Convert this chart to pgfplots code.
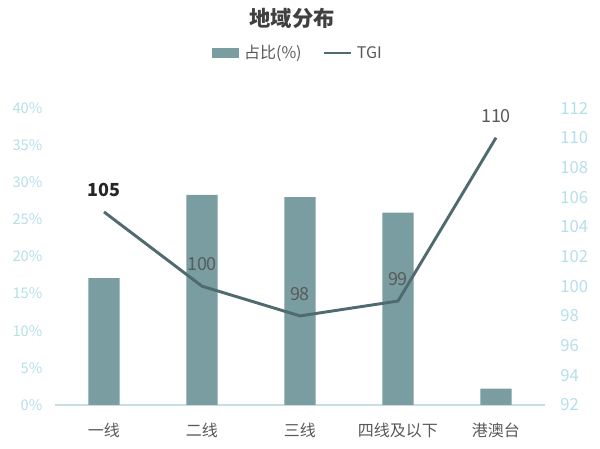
\documentclass[border=0pt]{standalone}
\usepackage{fontspec}
\setmainfont{Noto Sans CJK SC}
\usepackage{pgfplots}
\pgfplotsset{compat=1.18}
\definecolor{barc}{HTML}{7A9DA1}
\definecolor{linec}{HTML}{4F6B70}
\definecolor{tickc}{HTML}{B5DFE9}
\definecolor{axc}{HTML}{C9DEE3}
\definecolor{txt}{HTML}{595959}
\begin{document}
\begin{tikzpicture}[x=0.75pt,y=0.75pt]
\path[use as bounding box] (0,0) rectangle (600,449);
\node[font=\bfseries\fontsize{16}{18}\selectfont, text=black!75] at (292,431) {地域分布};
\begin{axis}[
  at={(55pt*0.75,44pt*0.75)}, anchor=south west,
  scale only axis, width=367.5pt, height=222.75pt,
  xmin=-0.5, xmax=4.5, ymin=0, ymax=0.40,
  ytick={0,0.05,...,0.40},
  yticklabel={\pgfmathparse{round(\tick*100)}\pgfmathprintnumber[fixed,precision=0]{\pgfmathresult}\%},
  /pgf/number format/assume math mode=true,
  yticklabel style={text=tickc, font=\fontsize{11}{12}\selectfont, xshift=-6pt},
  xtick=data, xticklabels={一线,二线,三线,四线及以下,港澳台},
  xticklabel style={text=txt, font=\fontsize{12}{13}\selectfont, yshift=-10pt},
  axis y line*=left, axis x line*=bottom,
  y axis line style={draw=none}, x axis line style={draw=axc, line width=0.8pt},
  major tick length=0pt, tick style={draw=none},
  ymajorgrids=false,
]
\addplot[ybar, bar width=23.5pt, fill=barc, draw=none] coordinates {(0,0.171) (1,0.283) (2,0.280) (3,0.259) (4,0.022)};
\end{axis}
\begin{axis}[
  at={(55pt*0.75,44pt*0.75)}, anchor=south west,
  scale only axis, width=367.5pt, height=222.75pt,
  xmin=-0.5, xmax=4.5, ymin=92, ymax=112,
  ytick={92,94,...,112},
  /pgf/number format/assume math mode=true,
  yticklabel style={text=tickc, font=\fontsize{12.5}{14}\selectfont, xshift=8pt},
  axis y line*=right, axis x line=none,
  y axis line style={draw=none}, tick style={draw=none}, major tick length=0pt,
  xtick=\empty,
  legend style={at={(0.496,1.185)}, anchor=center, draw=none, fill=none,
    legend columns=2, font=\fontsize{12}{14}\selectfont, text=txt,
    /tikz/every even column/.append style={column sep=14pt},
    /tikz/every odd column/.append style={column sep=2pt}},
  legend cell align=left,
]
\addlegendimage{legend image code/.code={\fill[barc] (0pt,-3.5pt) rectangle (20pt,3.5pt);}}
\addlegendentry{占比(\%)}
\addplot[linec, line width=2.2pt, mark=none,
  point meta=explicit symbolic,
  nodes near coords, nodes near coords align={above},
  every node near coord/.append style={text=txt!90!linec, font=\fontsize{13.5}{15}\selectfont, yshift=7pt},
  legend image code/.code={\draw[linec, line width=1.5pt] (0pt,0pt) -- (20pt,0pt);}]
  coordinates {(0,105) [\textbf{\textcolor{black!85}{105}}] (1,100) [100] (2,98) [98] (3,99) [99] (4,110) [110]};
\addlegendentry{TGI}
\end{axis}
\end{tikzpicture}
\end{document}
